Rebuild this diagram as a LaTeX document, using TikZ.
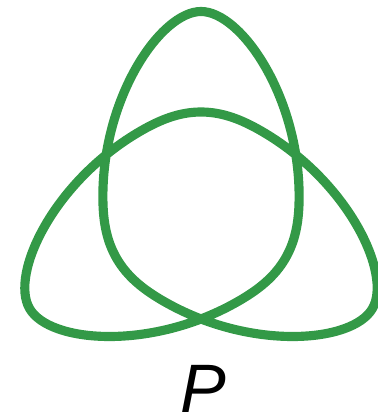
\documentclass[tikz,border=0pt]{standalone}
\usepackage{fontspec}
\usepackage{xcolor}
\usepackage{tikz}
\usetikzlibrary{positioning}
\newfontfamily\labelfont{Liberation Sans}
\definecolor{knotgreen}{RGB}{51,153,71}

\begin{document}
\begin{tikzpicture}[knot/.style={draw=knotgreen,line width=2.6pt,line join=round,line cap=round},every node/.style={font=\labelfont\fontsize{19.5}{20}\selectfont\itshape}]
  \useasboundingbox (-2.01,-2.095) rectangle (1.76,2.095);
  \draw[knot] (90:1.98) \foreach \r in {0,120,240}{
    .. controls +(\r:0.4) and +(90+\r:1.0) .. (7.6+\r:0.99)
    .. controls +(270+\r:0.22) and +(60+\r:0.22) .. (330+\r:0.975)
    .. controls +(240+\r:0.22) and +(30+\r:0.22) .. (292.4+\r:0.99)
    .. controls +(210+\r:1.0) and +(300+\r:0.4) .. (210+\r:1.98)} -- cycle;
  \node[anchor=base,inner sep=0pt] (p) at (0.02,-2.03) {P};
\end{tikzpicture}
\end{document}
